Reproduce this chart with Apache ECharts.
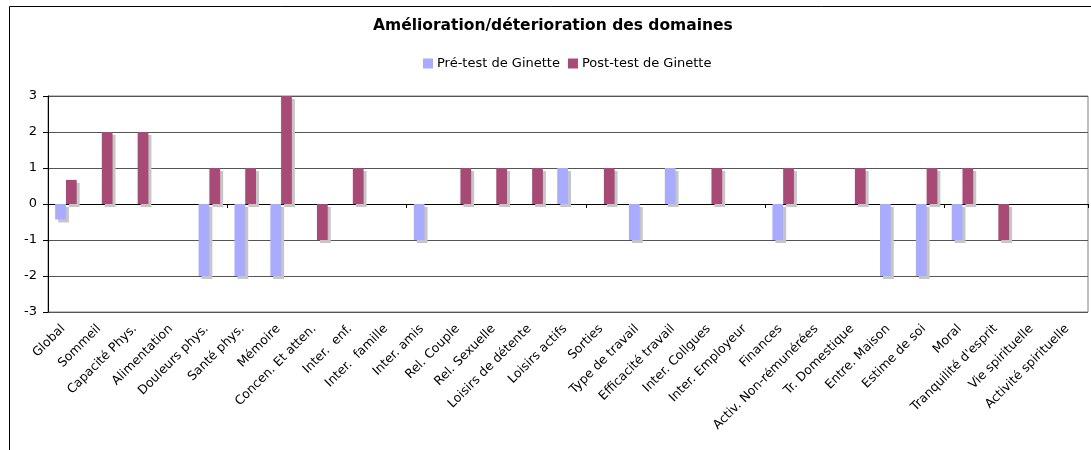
<!DOCTYPE html>
<html>
<head>
<meta charset="utf-8">
<script src="https://cdn.jsdelivr.net/npm/echarts@6/dist/echarts.min.js"></script>
<style>
  html, body { margin: 0; padding: 0; background: #fff; }
  #chart { width: 1091px; height: 450px; }
</style>
</head>
<body>
<div id="chart"></div>
<script>
// domaines (axe des catégories)
const domaines = ['Global', 'Sommeil', 'Capacité Phys.', 'Alimentation', 'Douleurs phys.', 'Santé phys.', 'Mémoire',
  'Concen. Et atten.', 'Inter.  enf.', 'Inter.  famille', 'Inter. amis', 'Rel. Couple', 'Rel. Sexuelle',
  'Loisirs de détente', 'Loisirs actifs', 'Sorties', 'Type de travail', 'Efficacité travail', 'Inter. Collgues',
  'Inter. Employeur', 'Finances', 'Activ. Non-rémunérées', 'Tr. Domestique', 'Entre. Maison', 'Estime de soi',
  'Moral', 'Tranquilité d\'esprit', 'Vie spirituelle', 'Activité spirituelle']

// valeurs (null = pas de barre)
const preTest = [-0.43, null, null, null, -2, -2, -2, null, null, null, -1, null, null, null, 1, null, -1, 1, null,
  null, -1, null, null, -2, -2, -1, null, null, null]
const postTest = [0.67, 2, 2, null, 1, 1, 3, -1, 1, null, null, 1, 1, 1, null, 1, null, null, 1,
  null, 1, null, 1, null, 1, 1, -1, null, null]

const yTicks = [-3, -2, -1, 0, 1, 2, 3]

const font = 'DejaVu Sans'
const chart = echarts.init(document.getElementById('chart'))

const barStyle = (color) => ({
  color: color,
  shadowColor: '#c6c6c6',
  shadowOffsetX: 3,
  shadowOffsetY: 3,
  shadowBlur: 0
})

chart.setOption({
  animation: false,
  title: {
    text: 'Amélioration/déterioration des domaines',
    left: 373,
    top: 18,
    padding: 0,
    textStyle: { fontFamily: font, fontSize: 15.5, fontWeight: 'bold', color: '#000' }
  },
  legend: {
    left: 423,
    top: 57,
    padding: 0,
    itemWidth: 10,
    itemHeight: 10,
    itemGap: 8,
    icon: 'rect',
    itemStyle: { shadowColor: 'rgba(0,0,0,0)', shadowOffsetX: 0, shadowOffsetY: 0 },
    textStyle: { fontFamily: font, fontSize: 13, color: '#000', padding: [0, 0, 0, -1] }
  },
  graphic: [{
    type: 'rect',
    shape: { x: 9.5, y: 6.5, width: 1200, height: 600 },
    style: { fill: 'none', stroke: '#000', lineWidth: 1 },
    silent: true
  }],
  grid: {
    left: 48, right: 3, top: 96, bottom: 138,
    show: true, borderColor: '#808080', borderWidth: 1, backgroundColor: '#fff'
  },
  xAxis: [
    {
      // ligne du zéro avec graduations
      type: 'category',
      data: domaines,
      position: 'top',
      axisLine: { onZero: true, lineStyle: { color: '#000', width: 1 } },
      axisTick: { show: true, inside: true, length: 4, lineStyle: { color: '#000' } },
      axisLabel: { show: false },
      splitLine: { show: false }
    },
    {
      type: 'category',
      data: domaines,
      position: 'bottom',
      axisLine: { show: false, onZero: false },
      axisTick: { show: false },
      axisLabel: {
        interval: 0, rotate: 45, margin: 12, padding: [0, 4, 0, 0],
        fontFamily: font, fontSize: 12.5, color: '#000'
      },
      splitLine: { show: false }
    }
  ],
  yAxis: {
    type: 'value',
    min: yTicks[0],
    max: yTicks[yTicks.length - 1],
    interval: 1,
    axisLine: { show: true, lineStyle: { color: '#000' } },
    axisTick: { show: true, length: 5, lineStyle: { color: '#000' } },
    axisLabel: { margin: 11, fontFamily: font, fontSize: 13, color: '#000' },
    splitLine: { lineStyle: { color: '#555', width: 1 } }
  },
  series: [
    {
      name: 'Pré-test de Ginette',
      type: 'bar',
      xAxisIndex: 1,
      data: preTest,
      barWidth: '30%',
      barGap: '0%',
      itemStyle: barStyle('#a9abff')
    },
    {
      name: 'Post-test de Ginette',
      type: 'bar',
      xAxisIndex: 1,
      data: postTest,
      barWidth: '30%',
      barGap: '0%',
      itemStyle: barStyle('#a84a76')
    }
  ]
})
</script>
</body>
</html>
